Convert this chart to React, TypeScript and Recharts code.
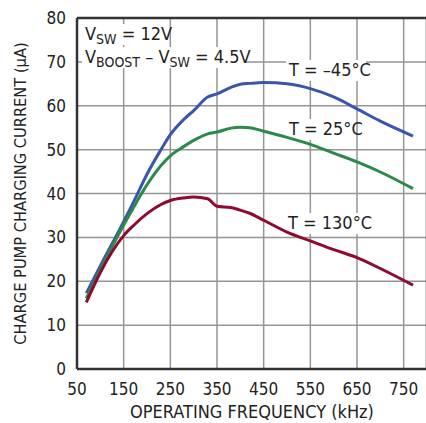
import { LineChart, Line, XAxis, YAxis, CartesianGrid, ReferenceLine, Label } from 'recharts'

// operating frequency (kHz) for every sample
const FREQ = [70, 100, 150, 170, 200, 230, 250, 280, 300, 330, 350, 380, 400, 420, 450, 500, 550, 600, 650, 700, 770]

// charge pump charging current (uA)
const T_MINUS_45 = [17.3, 23.5, 33.6, 37.8, 44.4, 50.0, 53.4, 57.0, 58.9, 62.0, 62.7, 64.2, 64.9, 65.1, 65.3, 65.0, 63.9, 62.0, 59.3, 56.5, 53.1]
const T_25 = [16.1, 22.6, 32.8, 36.6, 42.0, 46.4, 48.6, 50.8, 52.1, 53.6, 54.0, 54.9, 55.1, 55.0, 54.2, 52.8, 51.2, 49.2, 47.2, 44.9, 41.1]
const T_130 = [15.2, 22.0, 30.4, 32.6, 35.4, 37.5, 38.4, 39.0, 39.2, 38.8, 37.1, 36.8, 36.2, 35.5, 33.9, 31.2, 29.2, 27.2, 25.4, 22.9, 19.1]

const X_TICKS = [50, 150, 250, 350, 450, 550, 650, 750]
const Y_TICKS = [0, 10, 20, 30, 40, 50, 60, 70, 80]

const data = FREQ.map((f, i) => ({ f, a: T_MINUS_45[i], b: T_25[i], c: T_130[i] }))

const FONT = '"Liberation Sans Narrow", "DejaVu Sans Condensed", "Liberation Sans", sans-serif'
const GRID = '#959595'
const FRAME = '#333'

function Tag({ x, y, children, w }: { x: number; y: number; w: number; children: React.ReactNode }) {
  return (
    <g>
      <rect x={x - 3} y={y - 16} width={w} height={21} fill="#fff" />
      <text x={x} y={y} fontSize={18} fill="#222" fontFamily={FONT}>
        {children}
      </text>
    </g>
  )
}

export default function App() {
  return (
    <div style={{ position: 'absolute', left: 0, top: 0, width: 426, height: 423, overflow: 'hidden', background: '#fff' }}>
      <LineChart
        width={445}
        height={423}
        data={data}
        margin={{ top: 18, right: 18, left: 0, bottom: 0 }}
        style={{ fontFamily: FONT }}
      >
        <CartesianGrid stroke={GRID} strokeWidth={1.5} />
        <XAxis
          dataKey="f"
          type="number"
          domain={[50, 800]}
          ticks={X_TICKS}
          height={54}
          axisLine={{ stroke: FRAME, strokeWidth: 2.5 }}
          tickLine={false}
          tick={{ fontSize: 17, fill: '#222', fontFamily: FONT }}
          tickMargin={8}
        >
          <Label
            value="OPERATING FREQUENCY (kHz)"
            position="insideBottom"
            offset={5}
            style={{ fontSize: 18, fill: '#222', fontFamily: FONT }}
          />
        </XAxis>
        <YAxis
          type="number"
          domain={[0, 80]}
          ticks={Y_TICKS}
          width={77}
          axisLine={{ stroke: FRAME, strokeWidth: 2.5 }}
          tickLine={false}
          tick={{ fontSize: 17, fill: '#222', fontFamily: FONT }}
          tickMargin={5}
        >
          <Label
            value="CHARGE PUMP CHARGING CURRENT (μA)"
            angle={-90}
            position="insideLeft"
            offset={20}
            style={{ fontSize: 16.3, fill: '#222', fontFamily: FONT, textAnchor: 'middle' }}
          />
        </YAxis>
        <ReferenceLine y={80} stroke={FRAME} strokeWidth={2.5} />
        <ReferenceLine x={800} stroke={FRAME} strokeWidth={2.5} />
        <Line dataKey="a" stroke="#3a56a8" strokeWidth={3} dot={false} type="monotone" isAnimationActive={false} />
        <Line dataKey="b" stroke="#2a8a4a" strokeWidth={3} dot={false} type="monotone" isAnimationActive={false} />
        <Line dataKey="c" stroke="#8e0a2e" strokeWidth={3} dot={false} type="monotone" isAnimationActive={false} />
        <Tag x={85} y={40} w={80}>
          V<tspan fontSize={14} dy={4}>SW</tspan>
          <tspan dy={-4}> = 12V</tspan>
        </Tag>
        <Tag x={85} y={63} w={164}>
          V<tspan fontSize={14} dy={4}>BOOST</tspan>
          <tspan dy={-4}> – V</tspan>
          <tspan fontSize={14} dy={4}>SW</tspan>
          <tspan dy={-4}> = 4.5V</tspan>
        </Tag>
        <Tag x={289} y={76} w={80}>T = –45°C</Tag>
        <Tag x={289} y={135} w={68}>T = 25°C</Tag>
        <Tag x={288} y={229} w={78}>T = 130°C</Tag>
      </LineChart>
    </div>
  )
}
